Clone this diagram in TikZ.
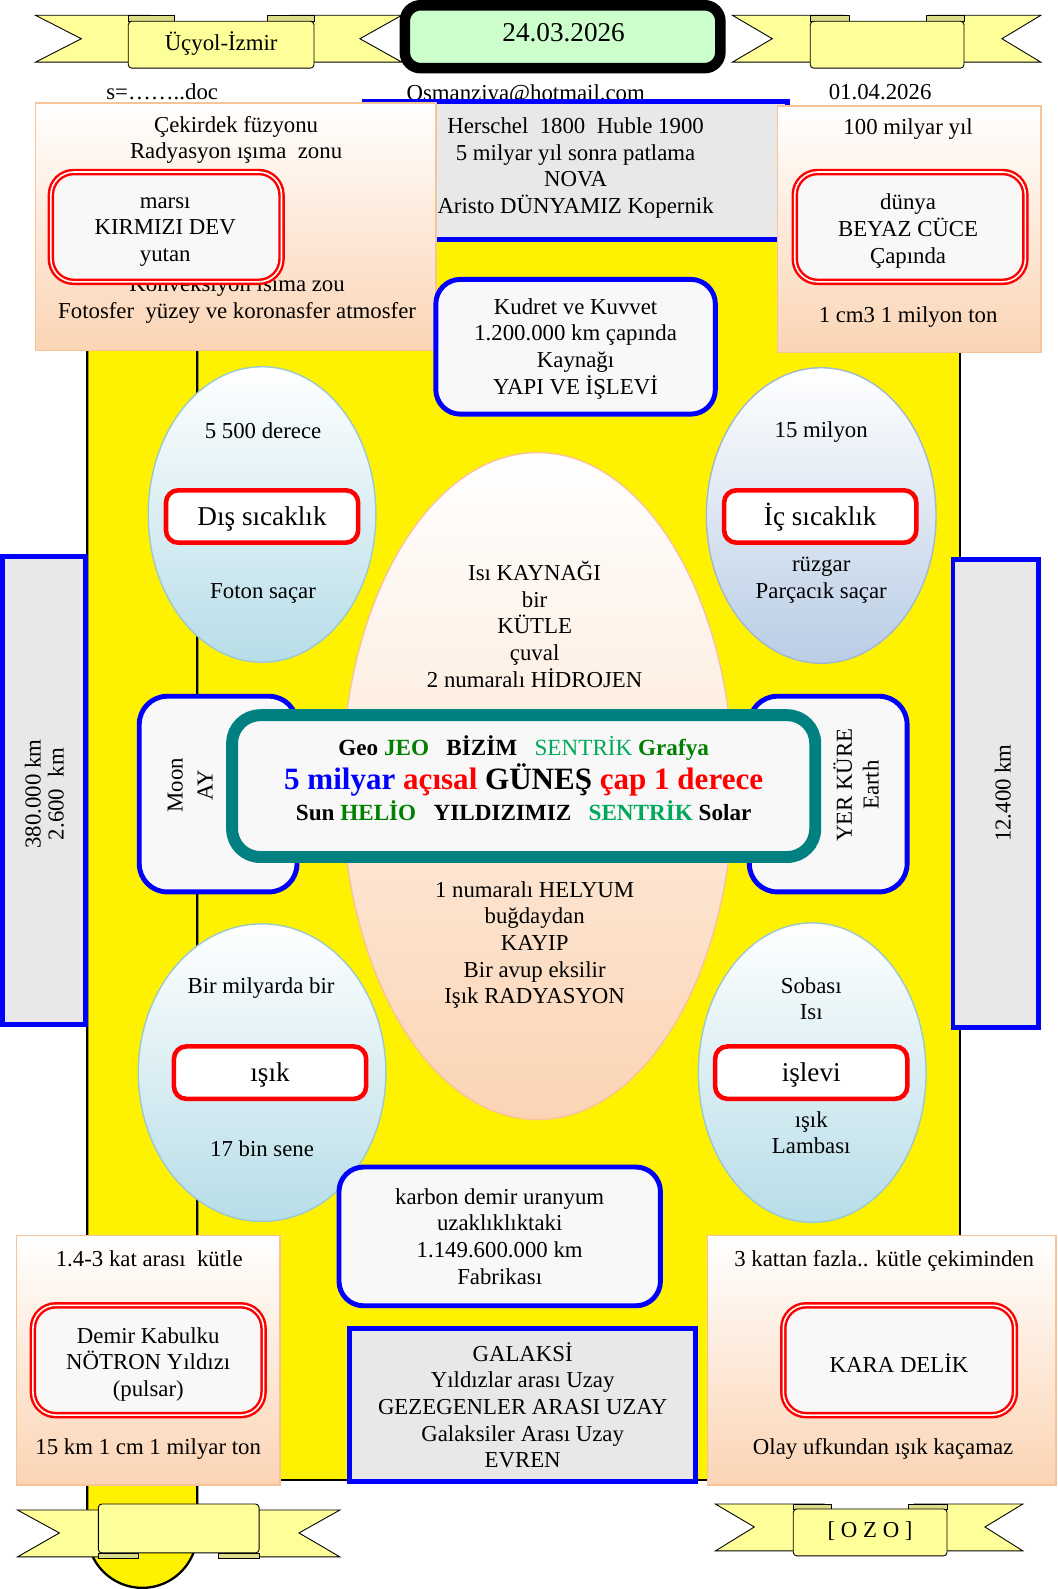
\documentclass[tikz,border=0pt]{standalone}
\usepackage{fontspec}
\setmainfont{Liberation Serif}
\usepackage{xcolor}
\definecolor{peach}{HTML}{FBD4B4}
\definecolor{peachline}{HTML}{F7C49A}
\definecolor{skyblue}{HTML}{B7DDE8}
\definecolor{steelblue}{HTML}{B9CDE5}
\definecolor{ovalline}{HTML}{9DC8CC}
\definecolor{ovalsteel}{HTML}{A3B8CF}
\definecolor{ribbon}{HTML}{FFFF99}
\definecolor{ribfold}{HTML}{DCDC88}
\definecolor{panelgray}{HTML}{E8E8E8}
\definecolor{offwhite}{HTML}{F8F8F8}
\definecolor{mint}{HTML}{CCFFCC}
\definecolor{tealline}{HTML}{008080}
\definecolor{jeogreen}{HTML}{008000}
\definecolor{sentgreen}{HTML}{00A859}
\tikzset{
  txt/.style={align=center, inner sep=0pt, font=\fontsize{13}{15.2}\selectfont},
  bigtxt/.style={inner sep=0pt, font=\fontsize{15.5}{18}\selectfont},
  scrollpart/.style={draw=black, line width=1.3pt, fill=yellow},
  banner/.style={draw=black, line width=0.5pt, fill=ribbon},
  bannerfold/.style={draw=black, line width=0.4pt, fill=ribfold},
  peachbox/.style={draw=peachline, line width=0.8pt, top color=white, bottom color=peach},
  graybox/.style={draw=blue, line width=2.8pt, fill=panelgray},
  bluebox/.style={draw=blue, line width=2.8pt, fill=offwhite, rounded corners=14pt},
  redbox/.style={draw=red, line width=1.4pt, double=white, double distance=0.9pt, fill=offwhite,
    rounded corners=13pt, minimum width=4.62cm, minimum height=2.2cm},
  tagbox/.style={draw=red, line width=2.6pt, fill=white, rounded corners=7pt, inner sep=0pt,
    minimum width=3.85cm, minimum height=1.05cm},
  skyoval/.style={draw=ovalline, line width=0.8pt, top color=white, bottom color=skyblue},
  steeloval/.style={draw=ovalsteel, line width=0.8pt, top color=white, bottom color=steelblue},
  peachoval/.style={draw=peachline, line width=0.8pt, top color=white, bottom color=peach},
  sunline/.style={font=\fontsize{13.2}{15}\selectfont\bfseries, inner sep=0pt},
}
\begin{document}
\begin{tikzpicture}[x=0.02cm,y=-0.02cm]
\fill[white] (0,0) rectangle (1059,1589);
% yellow scroll
\draw[scrollpart] (197,110) rectangle (961,1482);
\draw[scrollpart] (87,110) -- (87,1535) arc[start angle=180,end angle=0,radius=55] -- (197,110) -- cycle;
% header lines
\node[txt] (doc) at (162,92) {s=……..doc};
\node[txt] (mail) at (526,95) {Osmanziya@hotmail.com};
\node[txt] (day2) at (881,92) {01.04.2026};
% top left banner
\draw[banner] (35,15) -- (150,15) -- (150,62) -- (35,62) -- (81,38.5) -- cycle;
\draw[banner] (402,15) -- (290,15) -- (290,62) -- (402,62) -- (360,38.5) -- cycle;
\draw[bannerfold] (128,15) rectangle (174,21);
\draw[bannerfold] (267,15) rectangle (314,21);
\draw[banner, rounded corners=2pt] (128,21) rectangle (314,68);
\node[txt] (town) at (221,43) {Üçyol-İzmir};
% top right banner
\draw[banner] (733,15) -- (845,15) -- (845,62) -- (733,62) -- (773,38.5) -- cycle;
\draw[banner] (1042,15) -- (930,15) -- (930,62) -- (1042,62) -- (1003,38.5) -- cycle;
\draw[bannerfold] (811,15) rectangle (850,21);
\draw[bannerfold] (927,15) rectangle (965,21);
\draw[banner, rounded corners=2pt] (811,21) rectangle (965,68);
% date
\draw[line width=6pt, rounded corners=9pt, fill=mint] (405,5) rectangle (721,68);
\node[txt, font=\fontsize{15.5}{18}\selectfont] (day1) at (564,32) {24.03.2026};
% history panel
\draw[graybox] (365,101) rectangle (788,240);
\node[txt] (hist) at (576,168) {Herschel~ 1800~ Huble 1900\\5 milyar yıl sonra patlama\\NOVA\\Aristo DÜNYAMIZ Kopernik};
% red giant
\path[peachbox] (35,103) rectangle (436,351);
\node[txt] (fusion) at (236,140) {Çekirdek füzyonu\\Radyasyon ışıma~ zonu};
\node[txt] (convec) at (237,300) {Konveksiyon ısıma zou\\Fotosfer~ yüzey ve koronasfer atmosfer};
\node[redbox] (red) at (166,227) {};
\node[txt] (redtxt) at (165,232) {marsı\\KIRMIZI DEV\\yutan};
% white dwarf
\path[peachbox] (778,106) rectangle (1042,353);
\node[txt] (age) at (909,129) {100 milyar yıl};
\node[redbox] (white) at (911,227) {};
\node[txt] (whitetxt) at (909,231) {dünya\\BEYAZ CÜCE\\Çapında};
\node[txt] (dense) at (909,317) {1 cm3 1 milyon ton};
% power
\node[bluebox, minimum width=5.6cm, minimum height=2.7cm] (power) at (576,347) {};
\node[txt] (powertxt) at (576,349) {Kudret ve Kuvvet\\1.200.000 km çapında\\Kaynağı\\YAPI VE İŞLEVİ};
% side bars
\draw[graybox] (2,557) rectangle (85,1026);
\node[txt, rotate=90] (moondist) at (44,795) {380.000 km\\[-2pt]2.600~ km};
\draw[graybox] (954,560) rectangle (1040,1029);
\node[txt, rotate=90] (earthsize) at (1004,794) {12.400 km};
% outer heat
\path[skyoval] (262,515) ellipse[x radius=114,y radius=148];
\node[txt] (t1) at (263,431) {5 500 derece};
\node[tagbox] (outheat) at (262,517) {};
\node[bigtxt] (outtxt) at (262,519) {Dış sıcaklık};
\node[txt] (photon) at (263,594) {Foton saçar};
% inner heat
\path[steeloval] (822,516) ellipse[x radius=115,y radius=148];
\node[txt] (t2) at (822,432) {15 milyon};
\node[tagbox] (inheat) at (821,517) {};
\node[bigtxt] (intxt) at (821,518) {İç sıcaklık};
\node[txt] (wind) at (822,581) {rüzgar\\Parçacık saçar};
% core
\path[peachoval] (538,787) ellipse[x radius=196,y radius=334];
\node[txt] (hydro) at (535,625) {Isı KAYNAĞI\\bir\\KÜTLE\\çuval\\2 numaralı HİDROJEN};
\node[txt] (helium) at (535,946) {1 numaralı HELYUM\\buğdaydan\\KAYIP\\Bir avup eksilir\\Işık RADYASYON};
% moon and earth
\draw[bluebox, rounded corners=16pt] (139,697) rectangle (297,893);
\node[txt, rotate=90, font=\fontsize{13}{17}\selectfont] (moon) at (190,786) {Moon\\AY};
\draw[bluebox, rounded corners=16pt] (750,697) rectangle (908,893);
\node[txt, rotate=90] (earth) at (857,786) {YER KÜRE\\Earth};
% sun
\draw[draw=tealline, line width=6.8pt, fill=offwhite, rounded corners=16pt] (232,716) rectangle (816,858);
\node[sunline] (s1) at (524,749) {Geo \textcolor{jeogreen}{JEO}~~~BİZİM~~~\textcolor{sentgreen}{\mdseries SENTRİK} \textcolor{jeogreen}{Grafya}};
\node[sunline, font=\fontsize{17.7}{20}\selectfont\bfseries] (s2) at (524,781) {\textcolor{blue}{5 milyar} \textcolor{red}{açısal} GÜNEŞ \textcolor{red}{çap 1 derece}};
\node[sunline] (s3) at (524,812) {Sun \textcolor{jeogreen}{HELİO}~~~YILDIZIMIZ~~~\textcolor{sentgreen}{SENTRİK} Solar};
% light
\path[skyoval] (262,1074) ellipse[x radius=124,y radius=149];
\node[txt] (billion) at (261,989) {Bir milyarda bir};
\node[tagbox] (light) at (270,1074) {};
\node[bigtxt] (lighttxt) at (270,1076) {ışık};
\node[txt] (years) at (262,1150) {17 bin sene};
% function
\path[skyoval] (813,1074) ellipse[x radius=114,y radius=150];
\node[txt] (stove) at (812,1000) {Sobası\\Isı};
\node[tagbox] (role) at (812,1074) {};
\node[bigtxt] (roletxt) at (812,1076) {işlevi};
\node[txt] (lamp) at (812,1134) {ışık\\Lambası};
% factory
\node[bluebox, minimum width=6.44cm, minimum height=2.78cm, txt] (factory) at (500,1238) {karbon demir uranyum\\uzaklıklıktaki\\1.149.600.000 km\\Fabrikası};
% galaxy
\node[graybox, minimum width=6.94cm, minimum height=3.06cm, txt] (galaxy) at (523,1407) {GALAKSİ\\Yıldızlar arası Uzay\\GEZEGENLER ARASI UZAY\\Galaksiler Arası Uzay\\EVREN};
% neutron star
\path[peachbox] (16,1237) rectangle (280,1487);
\node[txt] (mass1) at (149,1260) {1.4-3 kat arası~ kütle};
\node[redbox] (neutron) at (148,1362) {};
\node[txt] (neutrontxt) at (148,1366) {Demir Kabulku\\NÖTRON Yıldızı\\(pulsar)};
\node[txt] (ton) at (148,1451) {15 km 1 cm 1 milyar ton};
% black hole
\path[peachbox] (708,1237) rectangle (1057,1487);
\node[txt] (mass2) at (885,1263) {3 kattan fazla.. kütle çekiminden};
\node[redbox, minimum width=4.64cm] (hole) at (900,1362) {};
\node[txt] (holetxt) at (900,1365) {KARA DELİK};
\node[txt] (horizon) at (884,1451) {Olay ufkundan ışık kaçamaz};
% bottom left banner
\draw[banner] (17,1512) -- (125,1512) -- (125,1559) -- (17,1559) -- (59,1535) -- cycle;
\draw[banner] (340,1512) -- (235,1512) -- (235,1559) -- (340,1559) -- (299,1535) -- cycle;
\draw[bannerfold] (98,1555) rectangle (138,1560);
\draw[bannerfold] (218,1555) rectangle (259,1560);
\draw[banner, rounded corners=2pt] (98,1506) rectangle (259,1555);
% bottom right banner
\draw[banner] (716,1506) -- (825,1506) -- (825,1553) -- (716,1553) -- (755,1529) -- cycle;
\draw[banner] (1024,1506) -- (915,1506) -- (915,1553) -- (1024,1553) -- (986,1529) -- cycle;
\draw[bannerfold] (794,1506) rectangle (832,1511);
\draw[bannerfold] (909,1506) rectangle (948,1511);
\draw[banner, rounded corners=2pt] (794,1511) rectangle (948,1558);
\node[txt] (sign) at (871,1533) {[ O Z O ]};
\end{tikzpicture}
\end{document}
